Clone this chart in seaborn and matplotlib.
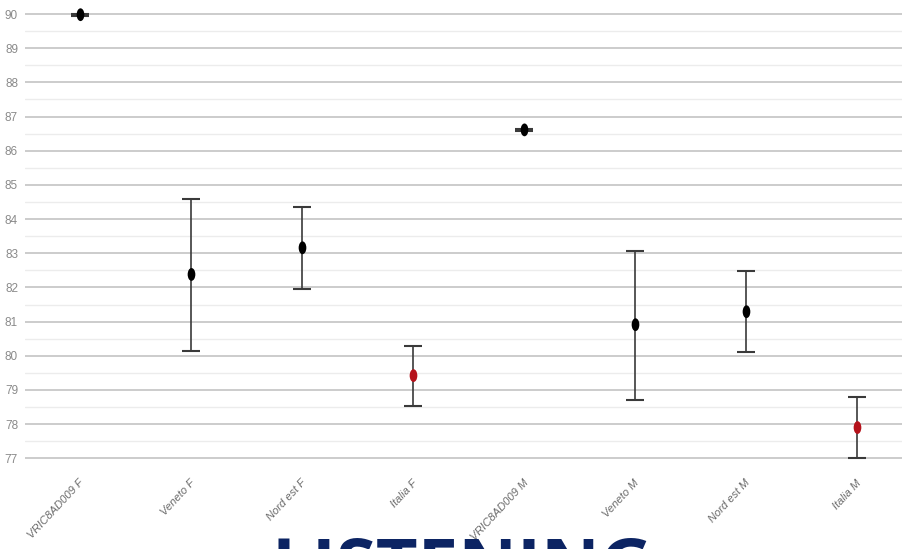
import numpy as np
import pandas as pd
import matplotlib
matplotlib.use("Agg")
import matplotlib.pyplot as plt
from matplotlib.path import Path
from matplotlib.transforms import Affine2D, ScaledTranslation
from matplotlib.ticker import MultipleLocator
import seaborn as sns

categories = ["VRIC8AD009 F", "Veneto F", "Nord est F", "Italia F",
              "VRIC8AD009 M", "Veneto M", "Nord est M", "Italia M"]
means = [89.98, 82.38, 83.16, 79.42, 86.61, 80.91, 81.29, 77.90]
lower = [89.95, 80.13, 81.94, 78.52, 86.58, 78.72, 80.10, 77.00]
upper = [90.01, 84.60, 84.36, 80.30, 86.64, 83.08, 82.49, 78.78]
group = ["other", "other", "other", "italia", "other", "other", "other", "italia"]
y_ticks = list(range(77, 91))
title_text = "LISTENING"

df = pd.DataFrame({"cat": categories, "mean": means, "lo": lower, "hi": upper, "grp": group})

sns.set_theme(style="white")
plt.rcParams['font.family'] = ['Liberation Sans Narrow', 'Liberation Sans', 'DejaVu Sans']

fig = plt.figure(figsize=(9.03, 5.49), dpi=100)
ax = fig.add_axes([25 / 903, 90 / 549, 1 - 25 / 903, 1 - 90 / 549])

ellipse = Path.unit_circle().transformed(Affine2D().scale(0.6, 1.0))

err_lo = df["mean"] - df["lo"]
err_hi = df["hi"] - df["mean"]
ax.errorbar(df["cat"], df["mean"], yerr=[err_lo, err_hi], fmt="none",
            ecolor="#3a3a3a", elinewidth=1.2, capsize=6.5, capthick=1.5, zorder=3)

sns.scatterplot(data=df, x="cat", y="mean", hue="grp",
                palette={"other": "#000000", "italia": "#b5121b"},
                marker=ellipse, s=85, edgecolor="none", legend=False, ax=ax, zorder=4)

ax.set_xlim(-0.5, 7.41)
ax.set_ylim(76.98, 90.41)
ax.set_yticks(y_ticks)
ax.yaxis.set_minor_locator(MultipleLocator(0.5))
ax.grid(axis="y", which="major", color="#c8c8c8", linewidth=1.3)
ax.grid(axis="y", which="minor", color="#ececec", linewidth=1.0)
ax.grid(axis="x", visible=False)
ax.set_axisbelow(True)
for s in ax.spines.values():
    s.set_visible(False)
ax.tick_params(axis="y", which="both", length=0, pad=5, labelsize=8.5, labelcolor="#8a8a8a")
ax.tick_params(axis="x", length=0, pad=16)
ax.set_xlabel("")
ax.set_ylabel("")
offset = ScaledTranslation(2 / 100, 0, fig.dpi_scale_trans)
for lab in ax.get_xticklabels():
    lab.set_rotation(47)
    lab.set_rotation_mode("anchor")
    lab.set_ha("right")
    lab.set_va("center")
    lab.set_fontstyle("italic")
    lab.set_fontsize(8)
    lab.set_color("#6a6a6a")
    lab.set_transform(lab.get_transform() + offset)

fig.text(272 / 903, 1 - 535 / 549, title_text, ha="left", va="top",
         fontsize=52, fontweight="bold", color="#0c2463",
         family=["Open Sans", "DejaVu Sans"])

fig.savefig("out.png", dpi=100)
